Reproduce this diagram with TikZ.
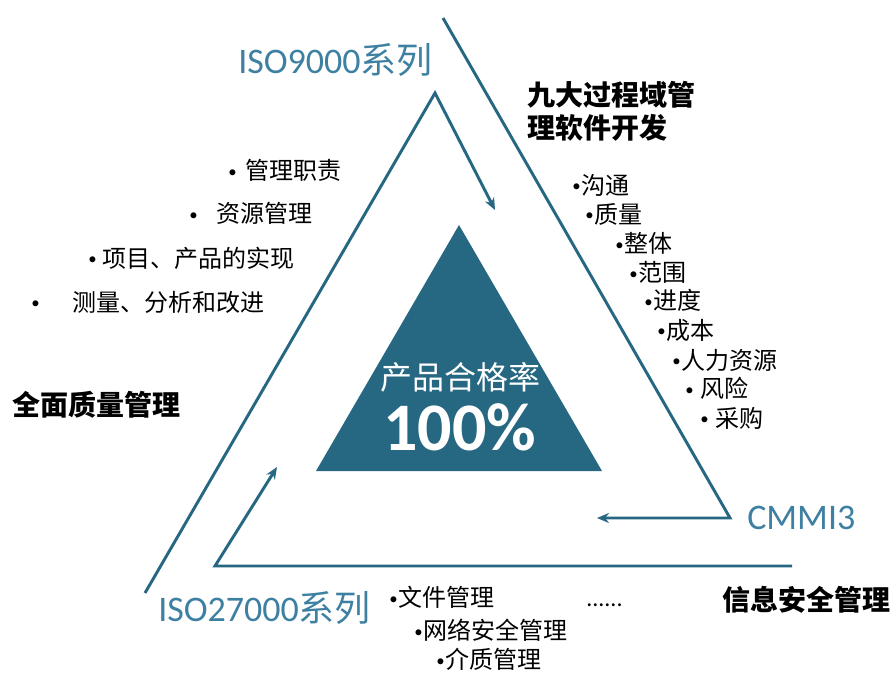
\documentclass[tikz,border=0pt]{standalone}
\usepackage{fontspec}
\setmainfont{Noto Sans CJK SC}
\newfontfamily\lat{Carlito}
\usetikzlibrary{arrows.meta}
\definecolor{petrol}{RGB}{38,103,130}
\definecolor{isoblue}{RGB}{62,128,162}
\tikzset{
  flow/.style={draw=petrol, line width=2.2pt},
  item/.style={anchor=west, inner sep=0pt, font=\fontsize{18}{20}\selectfont},
  heading/.style={anchor=west, inner sep=0pt, font=\bfseries\fontsize{21}{24.75}\selectfont, align=left},
  std/.style={anchor=west, inner sep=0pt, text=isoblue, font=\fontsize{27}{30}\selectfont},
}
\newcommand{\bul}{{\lat\raisebox{1.6pt}{\scalebox{0.7}{•}}}}
\begin{document}
\begin{tikzpicture}[x=0.75pt, y=-0.75pt, >={Stealth[length=9pt, width=7.5pt]}]
\useasboundingbox (0,0) rectangle (893,674);
% core triangle
\fill[petrol] (459,225) -- (602,471) -- (316,471) -- cycle;
\node[white, font=\fontsize{24}{26}\selectfont] (rate) at (460,377) {产品合格率};
\node[white, font=\lat\bfseries\fontsize{51}{54}\selectfont] (pct) at (460,427) {100\%};
% corners of the three flows
\coordinate (lstart) at (145,593);
\coordinate (lapex) at (435,93);
\coordinate (lend) at (495,210);
\coordinate (rstart) at (443,18);
\coordinate (rcorner) at (730,518);
\coordinate (rend) at (597,518);
\coordinate (bstart) at (792,566);
\coordinate (bcorner) at (215,566);
\coordinate (bend) at (277,467);
\draw[flow, ->] (lstart) -- (lapex) -- (lend);
\draw[flow, ->] (rstart) -- (rcorner) -- (rend);
\draw[flow, ->] (bstart) -- (bcorner) -- (bend);
% standards
\node[std] (iso9) at (238,60) {{\lat ISO9000}系列};
\node[std] (cmmi) at (747,518) {\lat CMMI3};
\node[std] (iso27) at (158,608) {{\lat ISO27000}系列};
% headings
\node[heading] (tqm) at (12,405) {全面质量管理};
\node[heading] (nine) at (527,111) {九大过程域管\\理软件开发};
\node[heading] (infosec) at (722,600) {信息安全管理};
% ISO9000 items
\node[item] (duty) at (228,170) {\bul\hspace{7pt}管理职责};
\node[item] (res) at (189,213) {\bul\hspace{14.5pt}资源管理};
\node[item] (real) at (88,258) {\bul\hspace{4.5pt}项目、产品的实现};
\node[item] (meas) at (31,302) {\bul\hspace{25pt}测量、分析和改进};
% CMMI items
\node[item] (comm) at (572,185) {\bul\hspace{1pt}沟通};
\node[item] (qual) at (585,214) {\bul\hspace{1pt}质量};
\node[item] (integ) at (615,243) {\bul\hspace{1pt}整体};
\node[item] (scope) at (629,272) {\bul\hspace{1pt}范围};
\node[item] (sched) at (644,300) {\bul\hspace{1pt}进度};
\node[item] (cost) at (657,330) {\bul\hspace{1pt}成本};
\node[item] (hr) at (672,360) {\bul\hspace{1pt}人力资源};
\node[item] (risk) at (685,388) {\bul\hspace{5pt}风险};
\node[item] (proc) at (700,418) {\bul\hspace{5pt}采购};
% ISO27000 items
\node[item] (docs) at (389,597) {\bul\hspace{1pt}文件管理};
\node[item] (net) at (414,630) {\bul\hspace{1pt}网络安全管理};
\node[item] (media) at (436,659) {\bul\hspace{1pt}介质管理};
\node[item, anchor=base west] (more) at (586,606) {\lat ......};
\end{tikzpicture}
\end{document}
